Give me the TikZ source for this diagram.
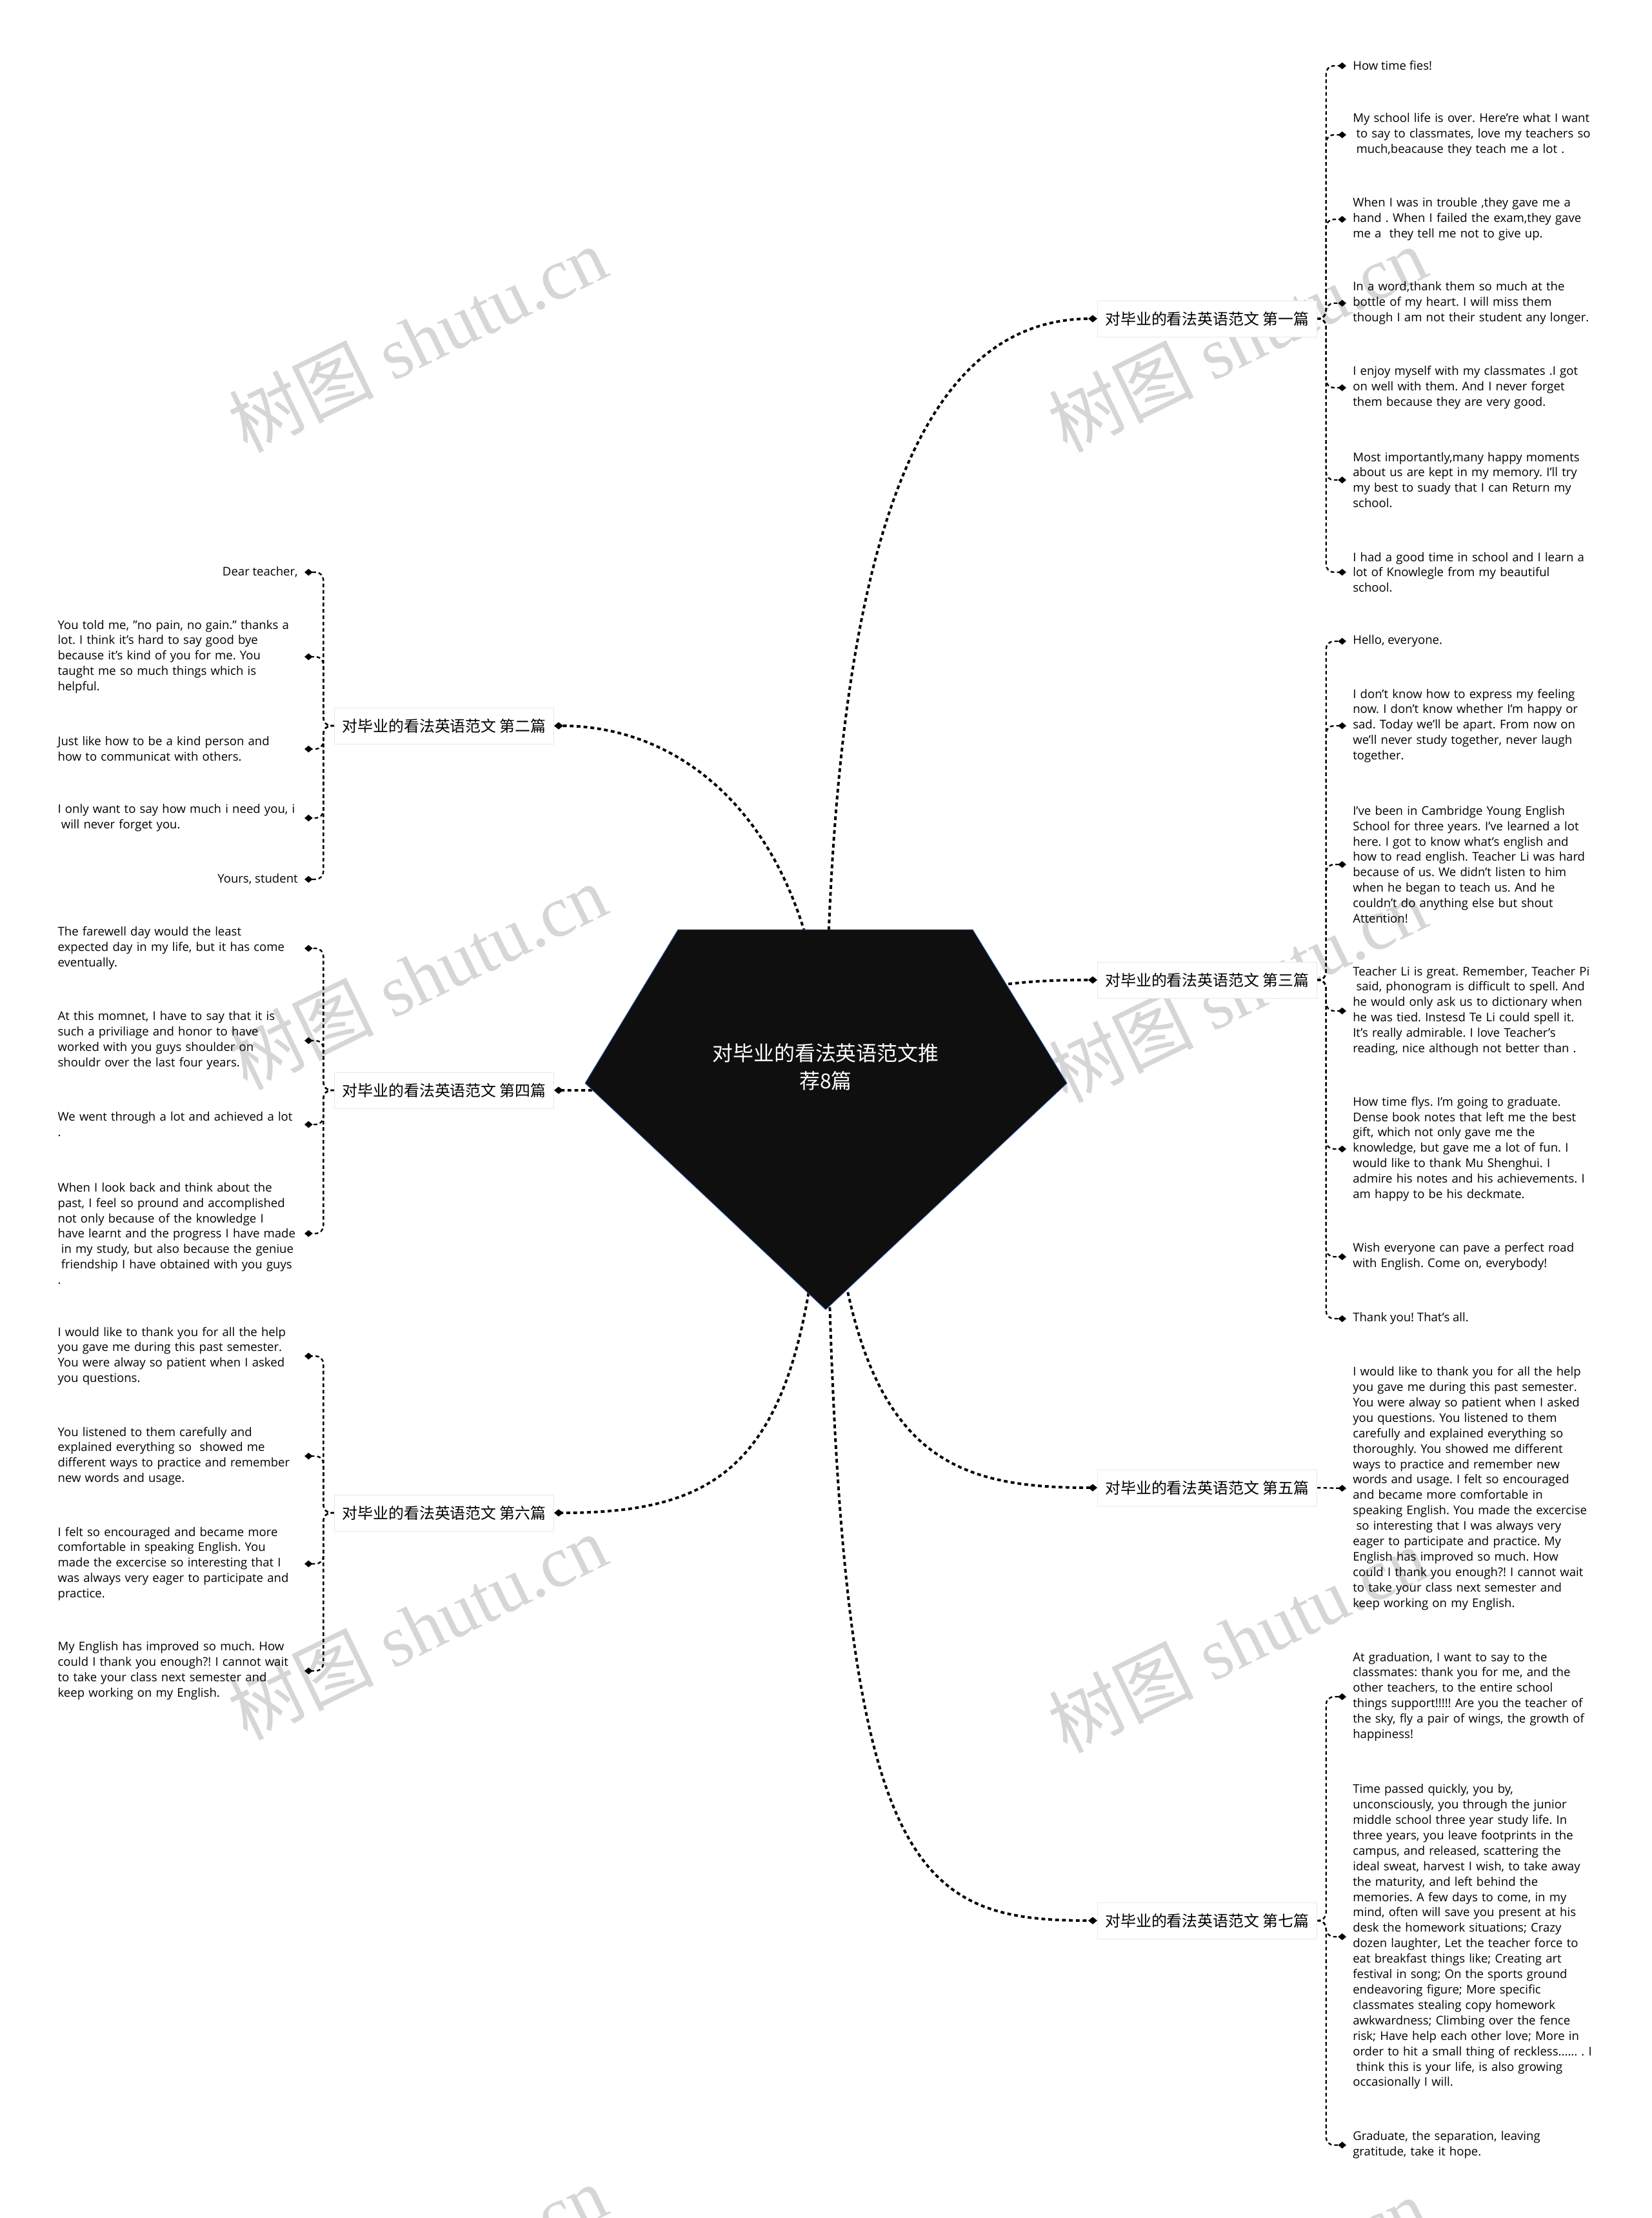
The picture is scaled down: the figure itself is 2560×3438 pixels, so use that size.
\documentclass[tikz,border=0pt]{standalone}
\usepackage{fontspec}
\setmainfont{Open Sans}
\newfontfamily\cjk{Noto Sans CJK SC}
\newfontfamily\wmserif{Liberation Serif}
\usetikzlibrary{arrows.meta, backgrounds}
\definecolor{rootfill}{RGB}{15,15,15}
\definecolor{rootedge}{RGB}{48,96,176}
\definecolor{wmgray}{RGB}{214,214,214}
\definecolor{boxedge}{RGB}{232,232,232}
\newcommand{\leaffont}{\fontsize{13.2}{17}\selectfont}
\newcommand{\indentsp}{\hspace*{.28em}}
\frenchspacing
\tikzset{
  root/.style={text=white, align=center, font=\cjk\fontsize{22.7}{30.5}\selectfont},
  topic/.style={draw=boxedge, fill=white, font=\cjk\fontsize{17}{20}\selectfont,
    inner xsep=0.3cm, minimum height=1.4cm},
  leaf/.style={align=left, font=\leaffont, inner xsep=0.25cm, inner ysep=2pt},
  leafbox/.style={leaf, text width=9.3cm},
  link/.style={line width=2.8pt, dash pattern=on 4.2pt off 3.4pt,
    -{Diamond[length=10pt,width=8pt]}},
  sublink/.style={line width=1.7pt, dash pattern=on 4pt off 3pt, rounded corners=0.3cm,
    -{Diamond[length=9pt,width=7.5pt]}},
  wmark/.style={text=wmgray, rotate=26, font=\wmserif\fontsize{80}{80}\selectfont}
}

\begin{document}
\begin{tikzpicture}[x=0.025cm, y=-0.025cm]
  \useasboundingbox (0,0) rectangle (2560,3438);

  % background: page and watermark
  \begin{pgfonlayer}{background}
    \fill[white] (0,0) rectangle (2560,3438);
    \node[wmark] (wm1) at (647,526) {{\cjk 树图} shutu.cn};
    \node[wmark] (wm2) at (1918,526) {{\cjk 树图} shutu.cn};
    \node[wmark] (wm3) at (647,1514) {{\cjk 树图} shutu.cn};
    \node[wmark] (wm4) at (1918,1534) {{\cjk 树图} shutu.cn};
    \node[wmark] (wm5) at (647,2522) {{\cjk 树图} shutu.cn};
    \node[wmark] (wm6) at (1918,2542) {{\cjk 树图} shutu.cn};
    \node[wmark] (wm7) at (647,3530) {{\cjk 树图} shutu.cn};
    \node[wmark] (wm8) at (1918,3550) {{\cjk 树图} shutu.cn};
  \end{pgfonlayer}

  % root
  \draw[fill=rootfill, draw=rootedge, line width=0.6pt]
    (1051,1441) -- (1508,1441) -- (1654,1679) -- (1280,2030) -- (907,1679) -- cycle;
  \node[root] (root) at (1280,1654) {对毕业的看法英语范文推\\荐8篇};

  % topics
  \node[topic, anchor=west] (p1) at (1701,494) {对毕业的看法英语范文 第一篇};
  \node[topic, anchor=east] (p2) at (859,1125) {对毕业的看法英语范文 第二篇};
  \node[topic, anchor=west] (p3) at (1701,1519) {对毕业的看法英语范文 第三篇};
  \node[topic, anchor=east] (p4) at (859,1690) {对毕业的看法英语范文 第四篇};
  \node[topic, anchor=west] (p5) at (1701,2306) {对毕业的看法英语范文 第五篇};
  \node[topic, anchor=east] (p6) at (859,2345) {对毕业的看法英语范文 第六篇};
  \node[topic, anchor=west] (p7) at (1701,2977) {对毕业的看法英语范文 第七篇};

  % first
  \node[leaf, anchor=west] (c11) at (2087,102) {How time fies!};
  \node[leafbox, anchor=west] (c12) at (2087,209) {My school life is over. Here're what I want\\\indentsp to say to classmates, love my teachers so\\\indentsp much,beacause they teach me a lot .};
  \node[leafbox, anchor=west] (c13) at (2087,340) {When I was in trouble ,they gave me a\\hand . When I failed the exam,they gave\\me a\ \ they tell me not to give up.};
  \node[leafbox, anchor=west] (c14) at (2087,470) {In a word,thank them so much at the\\bottle of my heart. I will miss them\\though I am not their student any longer.};
  \node[leafbox, anchor=west] (c15) at (2087,601) {I enjoy myself with my classmates .I got\\on well with them. And I never forget\\them because they are very good.};
  \node[leafbox, anchor=west] (c16) at (2087,744) {Most importantly,many happy moments\\about us are kept in my memory. I'll try\\my best to suady that I can Return my\\school.};
  \node[leafbox, anchor=west] (c17) at (2087,887) {I had a good time in school and I learn a\\lot of Knowlegle from my beautiful\\school.};

  % second
  \node[leaf, anchor=east] (c21) at (472,887) {Dear teacher,};
  \node[leafbox, anchor=east] (c22) at (472,1018) {You told me, "no pain, no gain." thanks a\\lot. I think it's hard to say good bye\\because it's kind of you for me. You\\taught me so much things which is\\helpful.};
  \node[leafbox, anchor=east] (c23) at (472,1161) {Just like how to be a kind person and\\how to communicat with others.};
  \node[leafbox, anchor=east] (c24) at (472,1268) {I only want to say how much i need you, i\\\indentsp will never forget you.};
  \node[leaf, anchor=east] (c25) at (472,1363) {Yours, student};

  % third
  \node[leaf, anchor=west] (c31) at (2087,994) {Hello, everyone.};
  \node[leafbox, anchor=west] (c32) at (2087,1125) {I don't know how to express my feeling\\now. I don't know whether I'm happy or\\sad. Today we'll be apart. From now on\\we'll never study together, never laugh\\together.};
  \node[leafbox, anchor=west] (c33) at (2087,1340) {I've been in Cambridge Young English\\School for three years. I've learned a lot\\here. I got to know what's english and\\how to read english. Teacher Li was hard\\because of us. We didn't listen to him\\when he began to teach us. And he\\couldn't do anything else but shout\\Attention!};
  \node[leafbox, anchor=west] (c34) at (2087,1567) {Teacher Li is great. Remember, Teacher Pi\\\indentsp said, phonogram is difficult to spell. And\\he would only ask us to dictionary when\\he was tied. Instesd Te Li could spell it.\\It's really admirable. I love Teacher's\\reading, nice although not better than .};
  \node[leafbox, anchor=west] (c35) at (2087,1781) {How time flys. I'm going to graduate.\\Dense book notes that left me the best\\gift, which not only gave me the\\knowledge, but gave me a lot of fun. I\\would like to thank Mu Shenghui. I\\admire his notes and his achievements. I\\am happy to be his deckmate.};
  \node[leafbox, anchor=west] (c36) at (2087,1948) {Wish everyone can pave a perfect road\\with English. Come on, everybody!};
  \node[leaf, anchor=west] (c37) at (2087,2044) {Thank you! That's all.};

  % fourth
  \node[leafbox, anchor=east] (c41) at (472,1470) {The farewell day would the least\\expected day in my life, but it has come\\eventually.};
  \node[leafbox, anchor=east] (c42) at (472,1613) {At this momnet, I have to say that it is\\such a priviliage and honor to have\\worked with you guys shoulder on\\shouldr over the last four years.};
  \node[leafbox, anchor=east] (c43) at (472,1743) {We went through a lot and achieved a lot\\.};
  \node[leafbox, anchor=east] (c44) at (472,1912) {When I look back and think about the\\past, I feel so pround and accomplished\\not only because of the knowledge I\\have learnt and the progress I have made\\\indentsp in my study, but also because the geniue\\\indentsp friendship I have obtained with you guys\\.};

  % fifth
  \node[leafbox, anchor=west] (c51) at (2087,2307) {I would like to thank you for all the help\\you gave me during this past semester.\\You were alway so patient when I asked\\you questions. You listened to them\\carefully and explained everything so\\thoroughly. You showed me different\\ways to practice and remember new\\words and usage. I felt so encouraged\\and became more comfortable in\\speaking English. You made the excercise\\\indentsp so interesting that I was always very\\eager to participate and practice. My\\English has improved so much. How\\could I thank you enough?! I cannot wait\\to take your class next semester and\\keep working on my English.};

  % sixth
  \node[leafbox, anchor=east] (c61) at (472,2102) {I would like to thank you for all the help\\you gave me during this past semester.\\You were alway so patient when I asked\\you questions.};
  \node[leafbox, anchor=east] (c62) at (472,2257) {You listened to them carefully and\\explained everything so\ \ showed me\\different ways to practice and remember\\new words and usage.};
  \node[leafbox, anchor=east] (c63) at (472,2424) {I felt so encouraged and became more\\comfortable in speaking English. You\\made the excercise so interesting that I\\was always very eager to participate and\\practice.};
  \node[leafbox, anchor=east] (c64) at (472,2590) {My English has improved so much. How\\could I thank you enough?! I cannot wait\\to take your class next semester and\\keep working on my English.};

  % seventh
  \node[leafbox, anchor=west] (c71) at (2087,2630) {At graduation, I want to say to the\\classmates: thank you for me, and the\\other teachers, to the entire school\\things support!!!!! Are you the teacher of\\the sky, fly a pair of wings, the growth of\\happiness!};
  \node[leafbox, anchor=west] (c72) at (2087,3002) {Time passed quickly, you by,\\unconsciously, you through the junior\\middle school three year study life. In\\three years, you leave footprints in the\\campus, and released, scattering the\\ideal sweat, harvest I wish, to take away\\the maturity, and left behind the\\memories. A few days to come, in my\\mind, often will save you present at his\\desk the homework situations; Crazy\\dozen laughter, Let the teacher force to\\eat breakfast things like; Creating art\\festival in song; On the sports ground\\endeavoring figure; More specific\\classmates stealing copy homework\\awkwardness; Climbing over the fence\\risk; Have help each other love; More in\\order to hit a small thing of reckless...... . I\\\indentsp think this is your life, is also growing\\occasionally I will.};
  \node[leafbox, anchor=west] (c73) at (2087,3325) {Graduate, the separation, leaving\\gratitude, take it hope.};

  % connectors
  \begin{pgfonlayer}{background}
    \draw[link] (root) .. controls (1290,800) and (1440,494) .. (p1.west);
    \draw[link] (root) .. controls (1255,1300) and (1080,1125) .. (p2.east);
    \draw[link] (root) .. controls (1450,1530) and (1560,1519) .. (p3.west);
    \draw[link] (root) .. controls (1100,1690) and (1000,1690) .. (p4.east);
    \draw[link] (root) .. controls (1300,2250) and (1450,2306) .. (p5.west);
    \draw[link] (root) .. controls (1265,2250) and (1150,2345) .. (p6.east);
    \draw[link] (root) .. controls (1290,2900) and (1400,2977) .. (p7.west);

    \foreach \c in {c11,c12,c13,c14,c15,c16,c17}
      \draw[sublink] (p1.east) -- ++(14,0) |- (\c.west);
    \foreach \c in {c21,c22,c23,c24,c25}
      \draw[sublink] (p2.west) -- ++(-17,0) |- (\c.east);
    \foreach \c in {c31,c32,c33,c34,c35,c36,c37}
      \draw[sublink] (p3.east) -- ++(14,0) |- (\c.west);
    \foreach \c in {c41,c42,c43,c44}
      \draw[sublink] (p4.west) -- ++(-17,0) |- (\c.east);
    \draw[sublink] (p5.east) -- (c51.west);
    \foreach \c in {c61,c62,c63,c64}
      \draw[sublink] (p6.west) -- ++(-17,0) |- (\c.east);
    \foreach \c in {c71,c72,c73}
      \draw[sublink] (p7.east) -- ++(14,0) |- (\c.west);
  \end{pgfonlayer}
\end{tikzpicture}
\end{document}
